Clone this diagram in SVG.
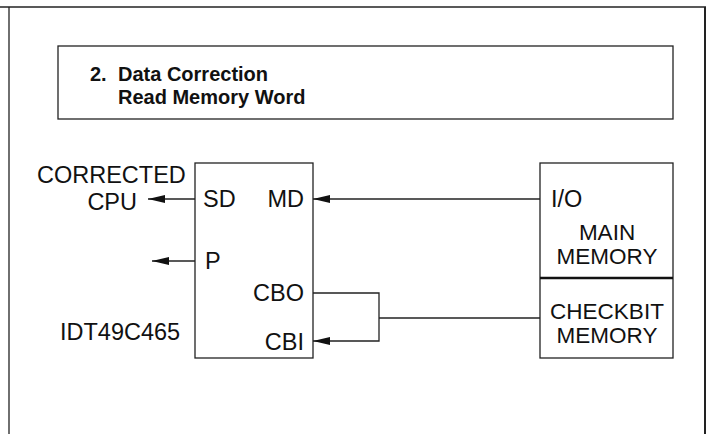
<svg xmlns="http://www.w3.org/2000/svg" width="712" height="434" viewBox="0 0 712 434">
<style>
.ln{stroke:#222;stroke-width:1.3;fill:none}
.bx{stroke:#222;stroke-width:1.3;fill:#fff}
.t{font-family:"Liberation Sans",Arial,sans-serif;font-size:23.5px;fill:#111}
.m{font-size:22.5px}
.tt{font-family:"Liberation Sans",Arial,sans-serif;font-size:20px;font-weight:bold;fill:#111}
</style>
<defs>
<marker id="ah" markerWidth="17" markerHeight="8" refX="17" refY="4" orient="auto" markerUnits="userSpaceOnUse">
<path d="M0,0 L17,4 L0,8 Z" fill="#111"/>
</marker>
</defs>
<g id="frame">
<line class="ln" x1="0" y1="7" x2="706" y2="7"/>
<line class="ln" x1="9" y1="7" x2="9" y2="434"/>
<line class="ln" x1="705" y1="7" x2="705" y2="434" style="stroke-width:2"/>
</g>
<g id="title">
<rect class="bx" x="58" y="46" width="615" height="73"/>
<text class="tt" x="90" y="81">2.</text>
<text class="tt" x="118" y="81">Data Correction</text>
<text class="tt" x="118" y="104">Read Memory Word</text>
</g>
<g id="chip">
<rect class="bx" x="195" y="163" width="118" height="195"/>
<text class="t" x="203" y="207">SD</text>
<text class="t" x="304" y="207" text-anchor="end">MD</text>
<text class="t" x="205" y="269">P</text>
<text class="t" x="304" y="301" text-anchor="end">CBO</text>
<text class="t" x="304" y="350" text-anchor="end">CBI</text>
</g>
<g id="chip-label">
<text class="t" x="60" y="340">IDT49C465</text>
</g>
<g id="cpu">
<text class="t" x="37" y="183">CORRECTED</text>
<text class="t" x="137" y="210" text-anchor="end">CPU</text>
</g>
<g id="memory">
<rect class="bx" x="540" y="163" width="133" height="195"/>
<line x1="540" y1="278" x2="673" y2="278" stroke="#111" stroke-width="2.5"/>
<text class="t" x="551" y="207">I/O</text>
<text class="t m" x="607" y="240" text-anchor="middle">MAIN</text>
<text class="t m" x="607" y="264" text-anchor="middle">MEMORY</text>
<text class="t m" x="607" y="319" text-anchor="middle">CHECKBIT</text>
<text class="t m" x="607" y="343" text-anchor="middle">MEMORY</text>
</g>
<g id="connectors">
<line class="ln" x1="195" y1="199" x2="148" y2="199" marker-end="url(#ah)"/>
<line class="ln" x1="195" y1="261" x2="152" y2="261" marker-end="url(#ah)"/>
<line class="ln" x1="540" y1="199" x2="313" y2="199" marker-end="url(#ah)"/>
<polyline class="ln" points="313,293 379,293 379,341 313,341" marker-end="url(#ah)"/>
<line class="ln" x1="379" y1="318" x2="540" y2="318"/>
</g>
</svg>
